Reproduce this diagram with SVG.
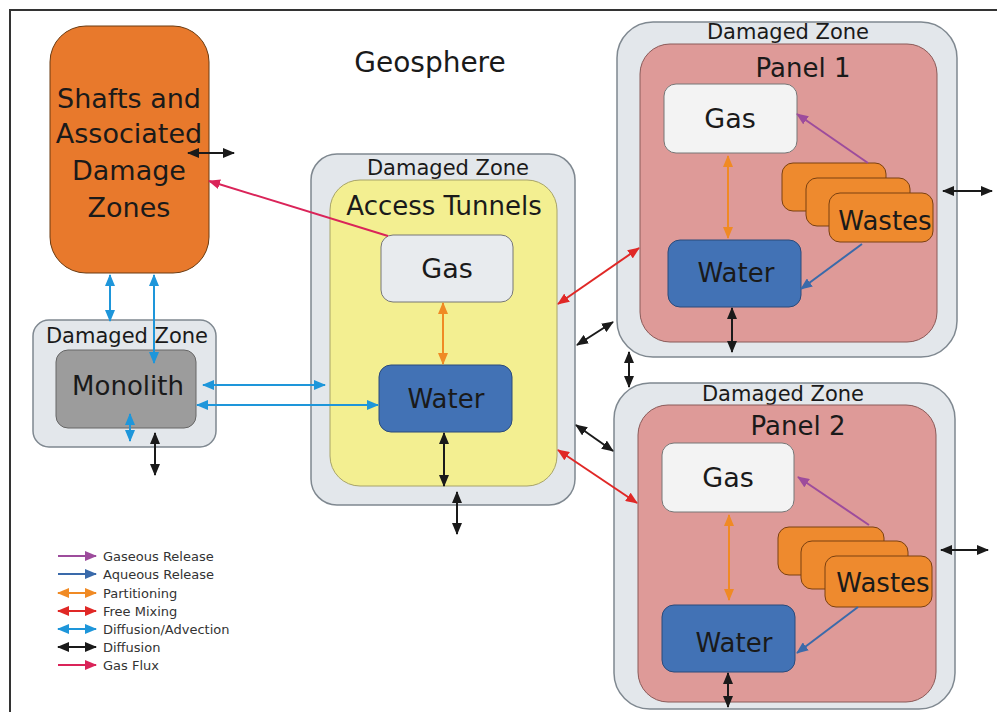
<svg xmlns="http://www.w3.org/2000/svg" width="997" height="712" viewBox="0 0 997 712">
<style>
text{font-family:"DejaVu Sans","Liberation Sans",sans-serif;fill:#1a1a1a;text-anchor:middle}
.dz{fill:#E3E7EB;stroke:#7F8890;stroke-width:1.5}
.lg{text-anchor:start;font-size:13px;fill:#333}
.c{fill:none;stroke-width:2}
.pu{stroke:#9D4C9C}.aq{stroke:#3A6AAA}.or{stroke:#F08A24}.rd{stroke:#E02826}.bl{stroke:#1E96DA}.bk{stroke:#1a1a1a}.gf{stroke:#DA2459}
</style>
<defs>
<marker id="mPu" viewBox="0 0 12 10" refX="11" refY="5" markerWidth="12" markerHeight="10" markerUnits="userSpaceOnUse" orient="auto-start-reverse"><path d="M0,0L12,5L0,10z" fill="#9D4C9C"/></marker>
<marker id="mAq" viewBox="0 0 12 10" refX="11" refY="5" markerWidth="12" markerHeight="10" markerUnits="userSpaceOnUse" orient="auto-start-reverse"><path d="M0,0L12,5L0,10z" fill="#3A6AAA"/></marker>
<marker id="mOr" viewBox="0 0 12 10" refX="11" refY="5" markerWidth="12" markerHeight="10" markerUnits="userSpaceOnUse" orient="auto-start-reverse"><path d="M0,0L12,5L0,10z" fill="#F08A24"/></marker>
<marker id="mRd" viewBox="0 0 12 10" refX="11" refY="5" markerWidth="12" markerHeight="10" markerUnits="userSpaceOnUse" orient="auto-start-reverse"><path d="M0,0L12,5L0,10z" fill="#E02826"/></marker>
<marker id="mBl" viewBox="0 0 12 10" refX="11" refY="5" markerWidth="12" markerHeight="10" markerUnits="userSpaceOnUse" orient="auto-start-reverse"><path d="M0,0L12,5L0,10z" fill="#1E96DA"/></marker>
<marker id="mBk" viewBox="0 0 12 10" refX="11" refY="5" markerWidth="12" markerHeight="10" markerUnits="userSpaceOnUse" orient="auto-start-reverse"><path d="M0,0L12,5L0,10z" fill="#1a1a1a"/></marker>
<marker id="mGf" viewBox="0 0 12 10" refX="11" refY="5" markerWidth="12" markerHeight="10" markerUnits="userSpaceOnUse" orient="auto-start-reverse"><path d="M0,0L12,5L0,10z" fill="#DA2459"/></marker>
</defs>
<rect x="0" y="0" width="997" height="712" fill="#fff"/>
<rect x="10" y="10" width="1000" height="720" fill="none" stroke="#333" stroke-width="2"/>
<text x="430" y="72" font-size="28">Geosphere</text>

<g id="shafts">
<rect x="50" y="26" width="159" height="247" rx="36" ry="36" fill="#E8792C" stroke="#6a3a10" stroke-width="1"/>
<text x="129" y="108" font-size="27">Shafts and</text>
<text x="129" y="143" font-size="27">Associated</text>
<text x="129" y="180" font-size="27">Damage</text>
<text x="129" y="217" font-size="27">Zones</text>
</g>

<g id="monolith">
<rect class="dz" x="33" y="320" width="183" height="127" rx="16"/>
<text x="127" y="343" font-size="21">Damaged Zone</text>
<rect x="56" y="350" width="140" height="78" rx="12" fill="#9C9C9C" stroke="#666" stroke-width="1"/>
<text x="128" y="395" font-size="26">Monolith</text>
</g>

<g id="access">
<rect class="dz" x="311" y="154" width="264" height="351" rx="26"/>
<text x="448" y="175" font-size="21">Damaged Zone</text>
<rect x="330" y="180" width="227" height="306" rx="30" fill="#F3EF91" stroke="#a8a468" stroke-width="1"/>
<text x="444" y="215" font-size="26">Access Tunnels</text>
<g id="at-gas"><rect x="381" y="235" width="132" height="67" rx="12" fill="#E8EBEE" stroke="#777" stroke-width="1"/>
<text x="447" y="278" font-size="27">Gas</text></g>
<g id="at-water"><rect x="379" y="365" width="133" height="67" rx="12" fill="#4272B5" stroke="#2a4a7a" stroke-width="1"/>
<text x="446" y="408" font-size="26">Water</text></g>
</g>

<g id="panel1">
<rect class="dz" x="617" y="22" width="340" height="335" rx="36"/>
<text x="788" y="39" font-size="21">Damaged Zone</text>
<rect x="640" y="44" width="297" height="298" rx="30" fill="#DE9A98" stroke="#8a5a58" stroke-width="1"/>
<text x="803" y="77" font-size="26">Panel 1</text>
<g id="p1-gas"><rect x="664" y="84" width="133" height="69" rx="12" fill="#F3F3F3" stroke="#777" stroke-width="1"/>
<text x="730" y="128" font-size="27">Gas</text></g>
<g id="p1-water"><rect x="668" y="240" width="133" height="67" rx="12" fill="#4272B5" stroke="#2a4a7a" stroke-width="1"/>
<text x="736" y="282" font-size="26">Water</text></g>
<g id="p1-wastes">
<rect x="782" y="163" width="104" height="48" rx="11" fill="#EE8A2E" stroke="#7a4010" stroke-width="1"/>
<rect x="806" y="178" width="104" height="48" rx="11" fill="#EE8A2E" stroke="#7a4010" stroke-width="1"/>
<rect x="829" y="193" width="104" height="49" rx="11" fill="#EE8A2E" stroke="#7a4010" stroke-width="1"/>
<text x="885" y="230" font-size="26">Wastes</text>
</g>
</g>

<g id="panel2">
<rect class="dz" x="614" y="383" width="341" height="326" rx="36"/>
<text x="783" y="401" font-size="21">Damaged Zone</text>
<rect x="638" y="405" width="298" height="297" rx="30" fill="#DE9A98" stroke="#8a5a58" stroke-width="1"/>
<text x="798" y="435" font-size="26">Panel 2</text>
<g id="p2-gas"><rect x="662" y="443" width="132" height="69" rx="12" fill="#F3F3F3" stroke="#777" stroke-width="1"/>
<text x="728" y="487" font-size="27">Gas</text></g>
<g id="p2-water"><rect x="662" y="605" width="133" height="67" rx="12" fill="#4272B5" stroke="#2a4a7a" stroke-width="1"/>
<text x="734" y="652" font-size="26">Water</text></g>
<g id="p2-wastes">
<rect x="778" y="527" width="106" height="48" rx="11" fill="#EE8A2E" stroke="#7a4010" stroke-width="1"/>
<rect x="801" y="541" width="107" height="48" rx="11" fill="#EE8A2E" stroke="#7a4010" stroke-width="1"/>
<rect x="825" y="556" width="107" height="51" rx="11" fill="#EE8A2E" stroke="#7a4010" stroke-width="1"/>
<text x="883" y="592" font-size="26">Wastes</text>
</g>
</g>

<g id="connectors">
<line class="c bl" x1="110" y1="275" x2="110" y2="321" marker-start="url(#mBl)" marker-end="url(#mBl)"/>
<line class="c bl" x1="154" y1="275" x2="154" y2="363" marker-start="url(#mBl)" marker-end="url(#mBl)"/>
<line class="c bl" x1="203" y1="385" x2="325" y2="385" marker-start="url(#mBl)" marker-end="url(#mBl)"/>
<line class="c bl" x1="197" y1="405" x2="378" y2="405" marker-start="url(#mBl)" marker-end="url(#mBl)"/>
<line class="c bl" x1="130" y1="414" x2="130" y2="441" marker-start="url(#mBl)" marker-end="url(#mBl)"/>
<line class="c bk" x1="188" y1="153" x2="234" y2="153" marker-start="url(#mBk)" marker-end="url(#mBk)"/>
<line class="c bk" x1="155" y1="433" x2="155" y2="475" marker-start="url(#mBk)" marker-end="url(#mBk)"/>
<line class="c bk" x1="444" y1="433" x2="444" y2="486" marker-start="url(#mBk)" marker-end="url(#mBk)"/>
<line class="c bk" x1="457" y1="492" x2="457" y2="534" marker-start="url(#mBk)" marker-end="url(#mBk)"/>
<line class="c bk" x1="577" y1="345" x2="613" y2="322" marker-start="url(#mBk)" marker-end="url(#mBk)"/>
<line class="c bk" x1="629" y1="352" x2="629" y2="387" marker-start="url(#mBk)" marker-end="url(#mBk)"/>
<line class="c bk" x1="576" y1="425" x2="613" y2="451" marker-start="url(#mBk)" marker-end="url(#mBk)"/>
<line class="c bk" x1="732" y1="308" x2="732" y2="352" marker-start="url(#mBk)" marker-end="url(#mBk)"/>
<line class="c bk" x1="943" y1="191" x2="992" y2="191" marker-start="url(#mBk)" marker-end="url(#mBk)"/>
<line class="c bk" x1="728" y1="673" x2="728" y2="707" marker-start="url(#mBk)" marker-end="url(#mBk)"/>
<line class="c bk" x1="941" y1="550" x2="988" y2="550" marker-start="url(#mBk)" marker-end="url(#mBk)"/>
<line class="c rd" x1="558" y1="304" x2="639" y2="248" marker-start="url(#mRd)" marker-end="url(#mRd)"/>
<line class="c rd" x1="558" y1="450" x2="637" y2="503" marker-start="url(#mRd)" marker-end="url(#mRd)"/>
<line class="c or" x1="443" y1="303" x2="443" y2="364" marker-start="url(#mOr)" marker-end="url(#mOr)"/>
<line class="c or" x1="728" y1="156" x2="728" y2="238" marker-start="url(#mOr)" marker-end="url(#mOr)"/>
<line class="c or" x1="729" y1="515" x2="729" y2="600" marker-start="url(#mOr)" marker-end="url(#mOr)"/>
<line class="c pu" x1="868" y1="163" x2="797" y2="114" marker-end="url(#mPu)"/>
<line class="c pu" x1="869" y1="525" x2="798" y2="477" marker-end="url(#mPu)"/>
<line class="c aq" x1="862" y1="244" x2="801" y2="289" marker-end="url(#mAq)"/>
<line class="c aq" x1="858" y1="607" x2="797" y2="653" marker-end="url(#mAq)"/>
<line class="c gf" x1="388" y1="236" x2="209" y2="181" marker-end="url(#mGf)"/>
</g>

<g id="legend">
<line class="c pu" x1="58" y1="556" x2="96" y2="556" marker-end="url(#mPu)"/>
<text class="lg" x="103" y="561">Gaseous Release</text>
<line class="c aq" x1="58" y1="574" x2="96" y2="574" marker-end="url(#mAq)"/>
<text class="lg" x="103" y="579">Aqueous Release</text>
<line class="c or" x1="58" y1="593" x2="96" y2="593" marker-start="url(#mOr)" marker-end="url(#mOr)"/>
<text class="lg" x="103" y="598">Partitioning</text>
<line class="c rd" x1="58" y1="611" x2="96" y2="611" marker-start="url(#mRd)" marker-end="url(#mRd)"/>
<text class="lg" x="103" y="616">Free Mixing</text>
<line class="c bl" x1="58" y1="629" x2="96" y2="629" marker-start="url(#mBl)" marker-end="url(#mBl)"/>
<text class="lg" x="103" y="634">Diffusion/Advection</text>
<line class="c bk" x1="58" y1="647" x2="96" y2="647" marker-start="url(#mBk)" marker-end="url(#mBk)"/>
<text class="lg" x="103" y="652">Diffusion</text>
<line class="c gf" x1="58" y1="665" x2="96" y2="665" marker-end="url(#mGf)"/>
<text class="lg" x="103" y="670">Gas Flux</text>
</g>
</svg>
